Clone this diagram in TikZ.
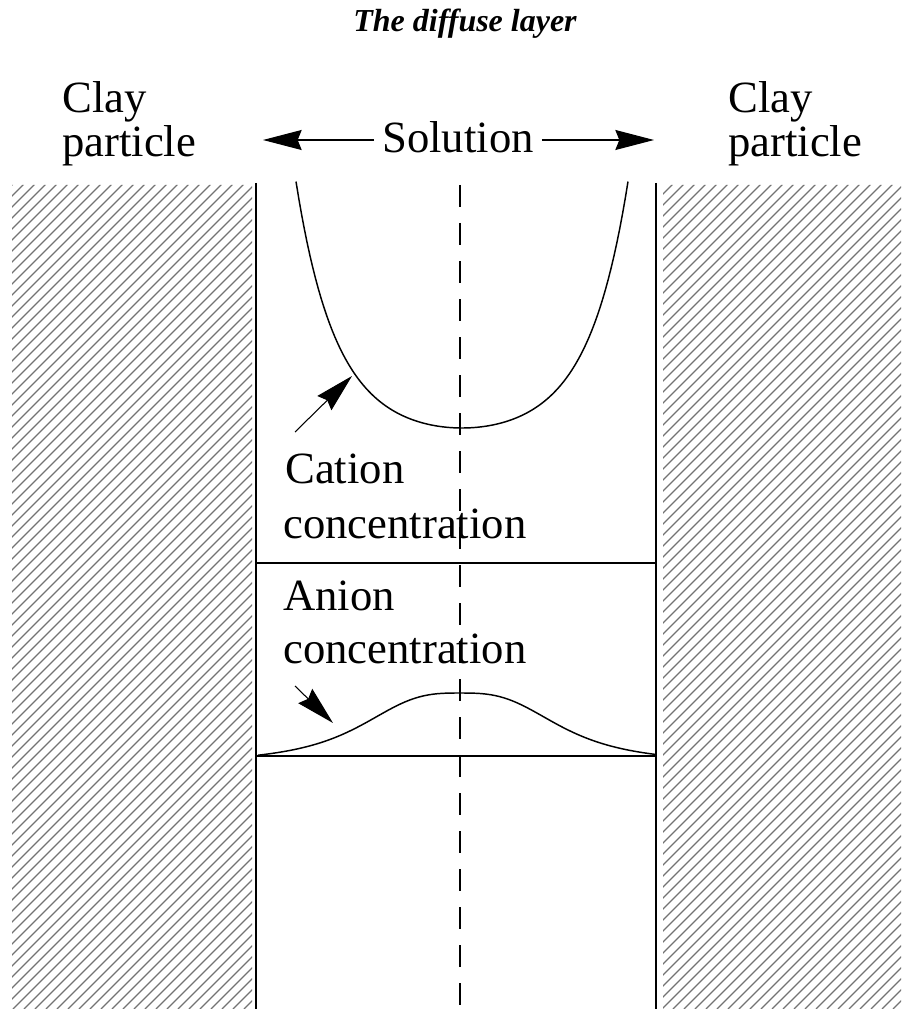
\documentclass[tikz,border=0pt]{standalone}
\usepackage{fontspec}
\setmainfont{Liberation Serif}
\usetikzlibrary{arrows.meta}
\tikzset{
  lbl/.style={anchor=base west, inner sep=0pt, font=\fontsize{33.5}{40}\selectfont},
  wall/.style={line width=1.5pt},
  hatchline/.style={black!55, line width=0.85pt},
  curve/.style={line width=1.1pt},
  pointer/.style={line width=0.8pt, -{Stealth[length=29pt,width=15pt,inset=3pt]}},
}

\begin{document}
\begin{tikzpicture}[x=0.75pt,y=0.75pt,yscale=-1,xscale=1]
\useasboundingbox (0,0) rectangle (901,1009);

%Hatched clay particles
\begin{scope}
\clip (12,185) rectangle (252,1009) (663,185) rectangle (901,1009);
\foreach \k in {-900,-889,...,901}
  \draw[hatchline] (\k,1009) -- ++(830,-830);
\end{scope}

%Straight Lines
\draw[wall] (256,183) -- (256,1009);
\draw[wall] (656,183) -- (656,1009);
\draw[wall] (256,563) -- (656,563);
\draw[wall] (256,756) -- (656,756);
%Dashed centre line
\draw[line width=1.1pt, dash pattern=on 16.5pt off 12pt] (460,185) -- (460,1009);

%Cation curve
\draw[curve] plot[domain=-166:166, samples=120] ({462+\x}, {428-15.5*(\x/100)*(\x/100)-3.98*((exp(0.028*\x)+exp(-0.028*\x))/2-1)});
%Anion curve
\draw[curve] plot[domain=-202:196, samples=90] ({460+\x}, {755-62*(1/(1+pow(abs(\x)/105,3))-0.126)/0.874});

% Text Node
\node[anchor=base, inner sep=0pt, font=\fontsize{24}{28}\selectfont\bfseries\itshape] (title) at (465,32) {The diffuse layer};
% Text Node
\node[lbl] (clayL) at (62,113) {Clay};
\node[lbl] (partL) at (62,157) {particle};
\node[lbl] (clayR) at (728,113) {Clay};
\node[lbl] (partR) at (728,157) {particle};
% Text Node
\node[lbl] (solution) at (382,153) {Solution};
\coordinate (solL) at (263,140);
\coordinate (solR) at (654,140);
\draw[pointer] (solution.west |- solL) ++(-8,0) coordinate (solLs) -- (solL);
\draw[pointer] (solution.east |- solR) ++(8,0) coordinate (solRs) -- (solR);
% Text Node
\node[lbl] (cation) at (285,483) {Cation};
\node[lbl] (catconc) at (283,538) {concentration};
\coordinate (catTail) at (295,432);
\coordinate (catTip) at (352,376);
\draw[pointer] (catTail) -- (catTip);
% Text Node
\node[lbl] (anion) at (283,610) {Anion};
\node[lbl] (anconc) at (283,663) {concentration};
\coordinate (anTail) at (295,686);
\coordinate (anTip) at (333,723);
\draw[pointer] (anTail) -- (anTip);

\end{tikzpicture}
\end{document}
